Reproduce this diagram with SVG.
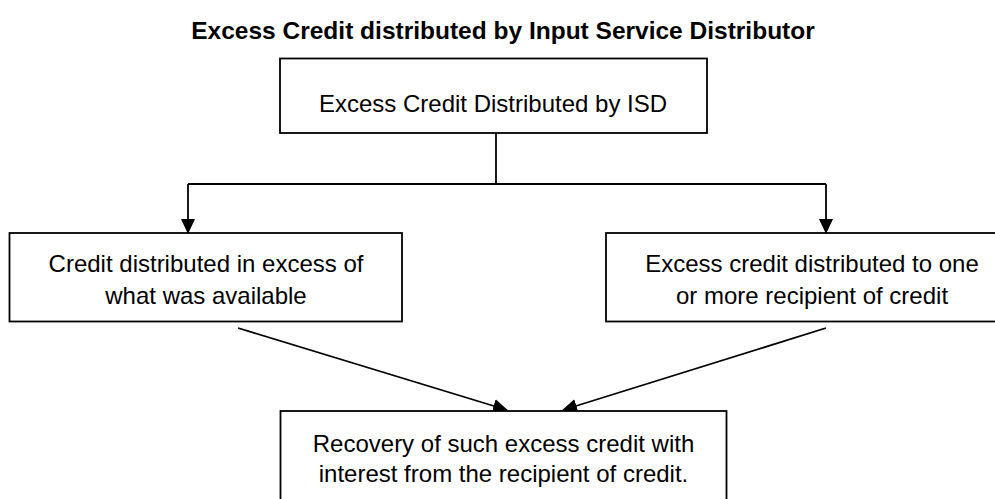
<svg xmlns="http://www.w3.org/2000/svg" width="995" height="499" viewBox="0 0 995 499">
  <style>
    .box { fill: #ffffff; stroke: #000000; stroke-width: 1.8; }
    .lbl { font-family: "Liberation Sans", Arial, sans-serif; font-size: 24px; fill: #000000; text-anchor: middle; }
    .title { font-family: "Liberation Sans", Arial, sans-serif; font-size: 24.5px; font-weight: bold; fill: #000000; text-anchor: middle; }
    .conn { fill: none; stroke: #000000; stroke-width: 1.8; }
  </style>
  <defs>
    <marker id="arrow" viewBox="0 0 15 14" refX="14" refY="7" markerWidth="15" markerHeight="14" markerUnits="userSpaceOnUse" orient="auto">
      <path d="M0,0 L15,7 L0,14 z" fill="#000000"/>
    </marker>
  </defs>
  <rect width="995" height="499" fill="#ffffff"/>

  <text id="title" class="title" x="503" y="39">Excess Credit distributed by Input Service Distributor</text>

  <g id="connectors">
    <line class="conn" x1="496" y1="133" x2="496" y2="184"/>
    <line class="conn" x1="188" y1="184" x2="826" y2="184"/>
    <line class="conn" x1="188" y1="184" x2="188" y2="233" marker-end="url(#arrow)"/>
    <line class="conn" x1="826" y1="184" x2="826" y2="233" marker-end="url(#arrow)"/>
    <line class="conn" x1="238" y1="328" x2="507" y2="410" marker-end="url(#arrow)"/>
    <line class="conn" x1="826" y1="328" x2="563" y2="410" marker-end="url(#arrow)"/>
  </g>

  <g id="node-top">
    <rect class="box" x="280" y="58.5" width="427" height="74.5"/>
    <text class="lbl" x="493" y="112">Excess Credit Distributed by ISD</text>
  </g>

  <g id="node-left">
    <rect class="box" x="9.5" y="233" width="392.5" height="88.5"/>
    <text class="lbl" x="206" y="271.5">Credit distributed in excess of</text>
    <text class="lbl" x="206" y="303.5">what was available</text>
  </g>

  <g id="node-right">
    <rect class="box" x="606" y="233" width="390.5" height="88.5"/>
    <text class="lbl" x="812" y="271.5">Excess credit distributed to one</text>
    <text class="lbl" x="812" y="303.5">or more recipient of credit</text>
  </g>

  <g id="node-bottom">
    <rect class="box" x="280.5" y="411" width="446" height="89.5"/>
    <text class="lbl" x="503.5" y="451.5">Recovery of such excess credit with</text>
    <text class="lbl" x="503.5" y="482">interest from the recipient of credit.</text>
  </g>
</svg>
